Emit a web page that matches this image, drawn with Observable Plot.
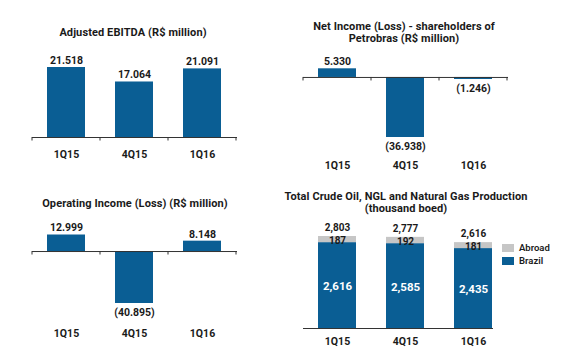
<!DOCTYPE html>
<html><head><meta charset="utf-8">
<script src="https://cdn.jsdelivr.net/npm/d3@7"></script>
<script src="https://cdn.jsdelivr.net/npm/@observablehq/plot@0.6"></script>
<style>
body{margin:0;background:#fff;}
#wrap{position:relative;width:565px;height:359px;overflow:hidden;font-family:Roboto,"Noto Sans",sans-serif;color:#1a1a1a;background:#fff;}
.panel{position:absolute;}
.title{position:absolute;width:300px;text-align:center;font-weight:bold;font-size:11px;letter-spacing:0.1px;line-height:12px;white-space:nowrap;}
.legend{position:absolute;font-size:9.5px;font-weight:600;line-height:13px;}
.legend .row{display:flex;align-items:center;height:13px;}
.legend .sw{width:12px;height:8px;margin-right:5px;}
</style></head><body><div id="wrap"></div>
<script>
const quarters = ["1Q15", "4Q15", "1Q16"];
const ebitda = [21518, 17064, 21091];
const netIncome = [5330, -36938, -1246];
const operatingIncome = [12999, -40895, 8148];
const prodBrazil = [2616, 2585, 2435];
const prodAbroad = [187, 192, 181];
const prodTotal = [2803, 2777, 2616];
const seriesNames = ["Abroad", "Brazil"];
const seriesColors = ["#c6c6c6", "#0a5e94"];
const barColor = "#0a5e94";
const titleEbitda = ["Adjusted EBITDA (R$ million)"];
const titleNet = ["Net Income (Loss) - shareholders of", "Petrobras (R$ million)"];
const titleOp = ["Operating Income (Loss) (R$ million)"];
const titleProd = ["Total Crude Oil, NGL and Natural Gas Production", "(thousand boed)"];

const wrap = document.getElementById("wrap");
const brFmt = d3.formatLocale({decimal: ",", thousands: ".", grouping: [3], currency: ["", ""]}).format(",d");
const usFmt = d3.format(",d");
const fmtBR = v => v < 0 ? `(${brFmt(-v)})` : brFmt(v);
const textColor = "#1a1a1a";
const style = {fontFamily: "Roboto, 'Noto Sans', sans-serif", fontSize: "10.5px", fontWeight: "bold", background: "transparent", overflow: "visible"};

function addTitle(lines, cx, cy) {
  const d = document.createElement("div");
  d.className = "title";
  d.innerHTML = lines.join("<br>");
  d.style.left = (cx - 150) + "px";
  d.style.top = (cy - lines.length * 6) + "px";
  wrap.appendChild(d);
}

function place(el, left, top) {
  const d = document.createElement("div");
  d.className = "panel";
  d.style.left = left + "px";
  d.style.top = top + "px";
  d.appendChild(el);
  wrap.appendChild(d);
}

function addTicks(svg) {
  const sx = svg.scale("x"), sy = svg.scale("y");
  const bw = sx.bandwidth;
  const step = sx.step ?? bw / (1 - sx.paddingInner);
  const xs = sx.domain.map(c => sx.apply(c) + bw / 2 - step / 2);
  xs.push(xs[xs.length - 1] + step);
  const y0 = sy.apply(0);
  d3.select(svg).append("g").attr("stroke", "#333").attr("stroke-width", 1)
    .selectAll("line").data(xs).join("line")
    .attr("x1", d => d).attr("x2", d => d).attr("y1", y0).attr("y2", y0 + 3.5);
}

function barPanel(values, o) {
  const data = quarters.map((q, i) => ({q, v: values[i]}));
  const svg = Plot.plot({
    width: o.width, height: o.height,
    marginLeft: o.ml, marginRight: o.mr, marginTop: o.mt, marginBottom: o.mb,
    style,
    x: {domain: quarters, paddingInner: 0.44, paddingOuter: 0.22, tickSize: 0, tickPadding: o.tp, label: null},
    y: {axis: null, domain: [Math.min(0, d3.min(values)), Math.max(0, d3.max(values))]},
    marks: [
      Plot.barY(data, {x: "q", y: "v", fill: barColor}),
      Plot.ruleY([0], {stroke: "#333", strokeWidth: 1}),
      Plot.text(data.filter(d => d.v >= 0), {x: "q", y: "v", text: d => fmtBR(d.v), dy: -7, fill: textColor}),
      Plot.text(data.filter(d => d.v < 0), {x: "q", y: "v", text: d => fmtBR(d.v), dy: 9, fill: textColor})
    ]
  });
  addTicks(svg);
  place(svg, o.left, o.top);
}

// Panel 1: Adjusted EBITDA
addTitle(titleEbitda, 133, 33);
barPanel(ebitda, {left: 0, top: 0, width: 280, height: 180, ml: 32, mr: 43, mt: 67, mb: 43, tp: 13.5});

// Panel 2: Net Income
addTitle(titleNet, 404, 33);
barPanel(netIncome, {left: 280, top: 0, width: 285, height: 180, ml: 23, mr: 57, mt: 68.3, mb: 43, tp: 24.5});

// Panel 3: Operating Income
addTitle(titleOp, 135, 204);
barPanel(operatingIncome, {left: 0, top: 180, width: 280, height: 179, ml: 32, mr: 43, mt: 54.5, mb: 56, tp: 26.5});

// Panel 4: Production (stacked)
addTitle(titleProd, 406, 203);
const colorOf = s => seriesColors[seriesNames.indexOf(s)];
const prod = quarters.flatMap((q, i) => [
  {q, s: "Brazil", v: prodBrazil[i]},
  {q, s: "Abroad", v: prodAbroad[i]}
]);
const totals = quarters.map((q, i) => ({q, v: prodTotal[i]}));
const brazilTops = quarters.map((q, i) => ({q, v: prodBrazil[i]}));
const svg4 = Plot.plot({
  width: 285, height: 179,
  marginLeft: 23, marginRight: 57, marginTop: 56, marginBottom: 31,
  style,
  x: {domain: quarters, paddingInner: 0.44, paddingOuter: 0.22, tickSize: 0, tickPadding: 9.5, label: null},
  y: {axis: null, domain: [0, d3.max(prodTotal)]},
  marks: [
    Plot.barY(prod, Plot.stackY({x: "q", y: "v", fill: d => colorOf(d.s)})),
    Plot.ruleY(brazilTops, {x: "q", y: "v", stroke: "white", strokeWidth: 1.2}),
    Plot.ruleY([0], {stroke: "#333", strokeWidth: 1, insetRight: 15}),
    Plot.text(prod, Plot.stackY({x: "q", y: "v", text: d => usFmt(d.v), fill: d => d.s === "Brazil" ? "white" : textColor, fontSize: d => d.s === "Brazil" ? 11.5 : 10, dy: 1})),
    Plot.text(totals, {x: "q", y: "v", text: d => usFmt(d.v), dy: -8.5, fill: textColor, fontSize: 10})
  ]
});
place(svg4, 280, 180);

// Legend
const lg = document.createElement("div");
lg.className = "legend";
lg.style.left = "502px";
lg.style.top = "241px";
seriesNames.forEach((s, i) => {
  const r = document.createElement("div");
  r.className = "row";
  r.innerHTML = `<div class="sw" style="background:${seriesColors[i]}"></div><span>${s}</span>`;
  lg.appendChild(r);
});
wrap.appendChild(lg);
</script>
</body></html>
